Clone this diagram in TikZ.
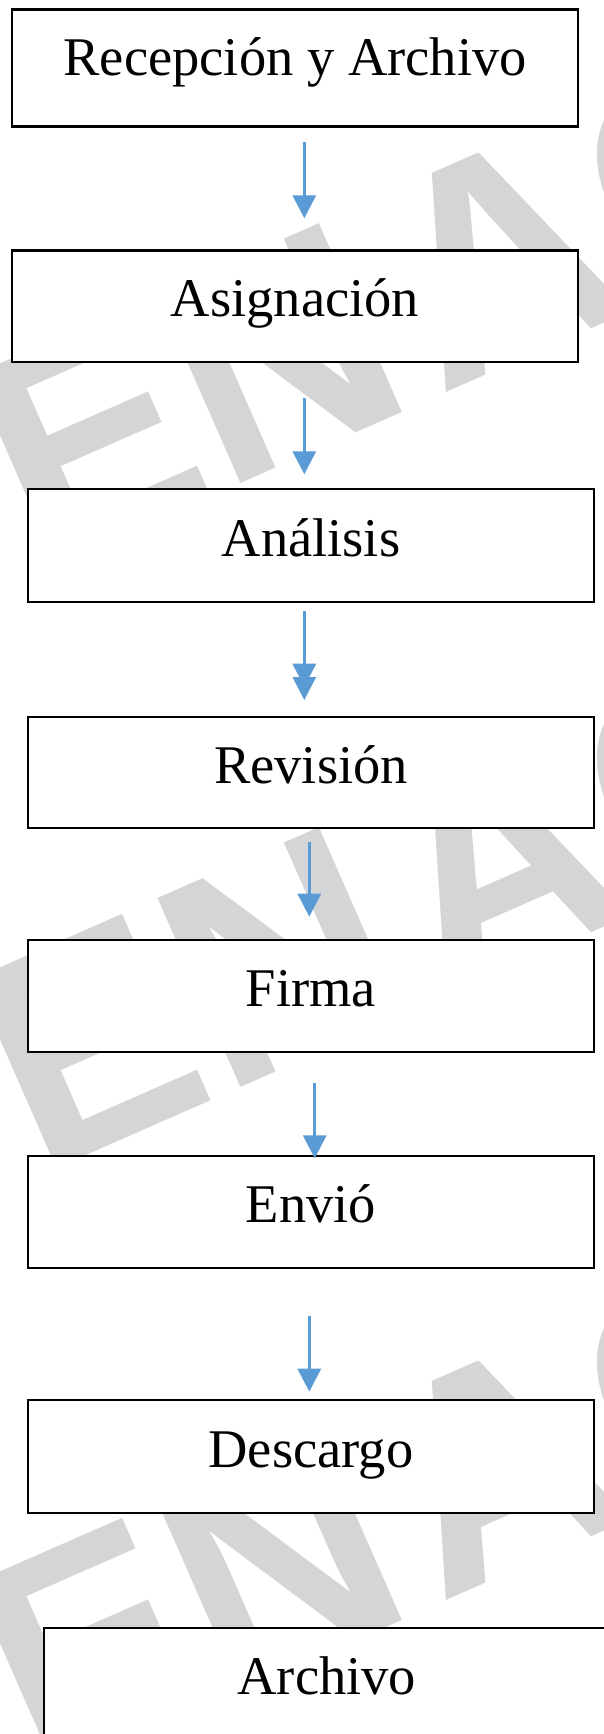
\documentclass[tikz,border=0pt]{standalone}
\usepackage{fontspec}
\setmainfont{Liberation Serif}
\newfontfamily\wmfont{Liberation Sans}
\usetikzlibrary{arrows.meta}
\definecolor{wmgray}{HTML}{D4D5D7}
\definecolor{arrblue}{HTML}{5B9BD5}
\newcommand{\wmword}{E\kern2pt N\kern20pt A\kern3pt C}
\begin{document}
\begin{tikzpicture}[x=1pt,y=-1pt,
  box/.style={draw=black, line width=2.4pt, fill=white, minimum width=566pt,
    minimum height=111.6pt, inner sep=0pt, outer sep=0pt,
    font=\fontsize{54.5pt}{60pt}\selectfont, text height=40pt, text depth=19pt},
  arr/.style={draw=arrblue, line width=3.2pt, -{Triangle[width=23pt,length=23pt]}},
  wm/.style={text=wmgray, font=\wmfont\bfseries\fontsize{300pt}{300pt}\selectfont,
    inner sep=0pt, outer sep=0pt, anchor=base west, rotate=23.7}]
\useasboundingbox (0,0) rectangle (604,1734);
\clip (0,0) rectangle (604,1734);
\fill[white] (0,0) rectangle (604,1734);
% watermark
\node[wm] (wm1) at (38.0,572.2) {\wmword};
\node[wm] (wm2) at (38.0,1176.2) {\wmword};
\node[wm] (wm3) at (38.0,1780.2) {\wmword};
% boxes
\node[box, minimum width=566.2pt, minimum height=117pt, text depth=24.4pt] (b1) at (295.1,68) {Recepción y Archivo};
\node[box, minimum width=566.2pt] (b2) at (295.1,306.3) {Asignación};
\node[box, minimum height=112.6pt] (b3) at (311,545.5) {Análisis};
\node[box, minimum height=110.6pt] (b4) at (311,772.5) {Revisión};
\node[box] (b5) at (311,996) {Firma};
\node[box] (b6) at (311,1212) {Envió};
\node[box, minimum height=112.6pt] (b7) at (311,1456.5) {Descargo};
\node[box] (b8) at (326.9,1684) {Archivo};
% arrows
\coordinate (s1) at (304.3,142.3); \coordinate (e1) at (304.3,218.3);
\coordinate (s2) at (304.3,398.3); \coordinate (e2) at (304.3,474.3);
\coordinate (s3) at (304.3,611);   \coordinate (e3) at (304.3,700); \coordinate (e3b) at (304.3,686.7);
\coordinate (s4) at (309.3,841.6); \coordinate (e4) at (309.3,916.7);
\coordinate (s5) at (314.7,1083);  \coordinate (e5) at (314.7,1158.3);
\coordinate (s6) at (309.3,1316);  \coordinate (e6) at (309.3,1391.7);
\draw[arr] (s1) -- (e1);
\draw[arr] (s2) -- (e2);
\draw[arr] (s3) -- (e3);
\draw[arr] (s3) -- (e3b);
\draw[arr] (s4) -- (e4);
\draw[arr] (s5) -- (e5);
\draw[arr] (s6) -- (e6);
\end{tikzpicture}
\end{document}
